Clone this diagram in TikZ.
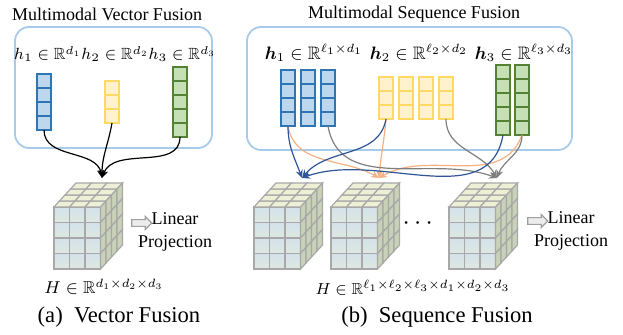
\RequirePackage{fix-cm}
\documentclass[tikz,border=0pt]{standalone}
\usepackage{amsmath}
\usepackage{amssymb}
\usepackage{bm}
\usepackage{fontspec}
\setmainfont{Liberation Serif}
\usetikzlibrary{arrows.meta,positioning,shapes.arrows}

\definecolor{boxblue}{HTML}{A9CBEA}
\definecolor{vblue}{HTML}{BDD7EE}
\definecolor{vbluel}{HTML}{2E75B6}
\definecolor{vyel}{HTML}{FFF2CC}
\definecolor{vyell}{HTML}{FFD966}
\definecolor{vgreen}{HTML}{C5E0B4}
\definecolor{vgreenl}{HTML}{548235}
\definecolor{arrblue}{HTML}{2F5597}
\definecolor{arrorange}{HTML}{F4B183}
\definecolor{arrgray}{HTML}{7F7F7F}
\definecolor{cubeline}{HTML}{A8A8A8}
\definecolor{cubetop}{HTML}{EEF0D6}
\definecolor{cubeside}{HTML}{C9D2B6}
\definecolor{cubeblue}{HTML}{D3E2EA}
\definecolor{cubecream}{HTML}{FAF3CC}

\tikzset{
  pics/vecbar/.style n args={3}{code={
    \foreach \k in {1,...,#1}
      \draw[fill=#2, draw=#3, line width=0.6pt] (0,{(\k-1)*14}) rectangle (14,{\k*14});
    \coordinate (-bot) at (7,{#1*14});
  }},
  pics/tcube/.style={code={
    % front face
    \foreach \i in {0,1,2} \foreach \k in {0,...,3}
      \shadedraw[draw=cubeline, line width=0.6pt, shading angle=45,
                 top color=cubeblue, middle color=cubecream, bottom color=cubeblue!70!cubecream]
        ({\i*15.5},{\k*15.5}) rectangle ++(15.5,15.5);
    % top face
    \foreach \i in {0,1,2} \foreach \j in {0,...,3}
      \filldraw[draw=cubeline, line width=0.6pt, fill=cubetop]
        ({\i*15.5+\j*5.5},{-\j*6}) -- ++(15.5,0) -- ++(5.5,-6) -- ++(-15.5,0) -- cycle;
    % side face
    \foreach \j in {0,...,3} \foreach \k in {0,...,3}
      \filldraw[draw=cubeline, line width=0.6pt, fill=cubeside]
        ({46.5+\j*5.5},{\k*15.5-\j*6}) -- ++(5.5,-6) -- ++(0,15.5) -- ++(-5.5,6) -- cycle;
    \coordinate (-top) at (48,-29);
  }}
}

\begin{document}
\begin{tikzpicture}[
  x=0.5pt, y=-0.5pt,
  title/.style={font=\fontsize{9}{10}\selectfont, inner sep=0pt},
  lbl/.style={font=\fontsize{9}{11}\selectfont, inner sep=0pt},
  captxt/.style={font=\fontsize{11.3}{13}\selectfont, inner sep=0pt},
  panel/.style={draw=boxblue, line width=0.9pt, rounded corners=7pt},
  proj/.style={font=\fontsize{9}{10.5}\selectfont, align=center, inner sep=0pt},
  parr/.style={single arrow, draw=gray!75, fill=gray!15, line width=0.6pt,
               minimum height=10pt, minimum width=6.5pt, single arrow head extend=1.4pt,
               inner sep=1.2pt},
  fuse/.style={-{Stealth[length=4pt,width=3.5pt]}, line width=0.6pt},
]
\useasboundingbox (0,0) rectangle (623,335);

% ---------- Panel (a): vector fusion ----------
\node[title] (ttlA) at (107,14) {Multimodal Vector Fusion};
\draw[panel] (15,27) rectangle (212,148);
\node[lbl, font=\fontsize{8.1}{10}\selectfont] (hA) at (115,54)
  {$h_1\in\mathbb{R}^{d_1}h_2\in\mathbb{R}^{d_2}h_3\in\mathbb{R}^{d_3}$};

\pic (a1) at (37,74) {vecbar={4}{vblue}{vbluel}};
\pic (a2) at (105,81) {vecbar={3}{vyel}{vyell}};
\pic (a3) at (173,67) {vecbar={5}{vgreen}{vgreenl}};

\pic (ca) at (54,207) {tcube};

\draw[fuse] (a1-bot) to[out=-90,in=100] (ca-top);
\draw[fuse] (a2-bot) to[out=-100,in=90] (ca-top);
\draw[fuse] (a3-bot) to[out=-90,in=70] (ca-top);

\node[parr] (pa) at (140,223) {};
\node[proj, anchor=north] (linA) at (175,212) {Linear\\[1pt]Projection};
\node[lbl, font=\fontsize{8.6}{10}\selectfont] (HA) at (104,287)
  {$H\in\mathbb{R}^{d_1\times d_2\times d_3}$};
\node[captxt] (capA) at (119,317) {(a)\ \ Vector Fusion};

% ---------- Panel (b): sequence fusion ----------
\node[title] (ttlB) at (414,14) {Multimodal Sequence Fusion};
\draw[panel] (247,27) rectangle (572,150);
\node[lbl] (hB1) at (314,53) {$\bm{h}_1\in\mathbb{R}^{\ell_1\times d_1}$};
\node[lbl] (hB2) at (419,53) {$\bm{h}_2\in\mathbb{R}^{\ell_2\times d_2}$};
\node[lbl] (hB3) at (524,53) {$\bm{h}_3\in\mathbb{R}^{\ell_3\times d_3}$};

\foreach \n/\x in {1/281,2/301,3/321}
  \pic (b\n) at (\x,70) {vecbar={4}{vblue}{vbluel}};
\foreach \n/\x in {1/379,2/399,3/419,4/439}
  \pic (y\n) at (\x,77) {vecbar={3}{vyel}{vyell}};
\foreach \n/\x in {1/496,2/515}
  \pic (g\n) at (\x,65) {vecbar={5}{vgreen}{vgreenl}};

\pic (c1) at (254,207) {tcube};
\pic (c2) at (331,207) {tcube};
\pic (c3) at (449,207) {tcube};
\node[lbl, font=\fontsize{13}{14}\selectfont] (dots) at (420,224) {$\cdots$};

\draw[fuse, arrorange] (b1-bot) to[out=-80,in=150] (c2-top);
\draw[fuse, arrorange] (y1-bot) to[out=-95,in=85] (c2-top);
\draw[fuse, arrorange] (g2-bot) to[out=-110,in=30] (c2-top);
\draw[fuse, arrgray] (b3-bot) to[out=-80,in=160] (c3-top);
\draw[fuse, arrgray] (y4-bot) to[out=-90,in=120] (c3-top);
\draw[fuse, arrgray] (g2-bot) to[out=-90,in=70] (c3-top);
\draw[fuse, arrblue] (b1-bot) to[out=-90,in=110] (c1-top);
\draw[fuse, arrblue] (y1-bot) to[out=-100,in=50] (c1-top);
\draw[fuse, arrblue] (g1-bot) to[out=-100,in=20] (c1-top);

\node[parr] (pb) at (536,221) {};
\node[proj, anchor=north] (linB) at (571,211) {Linear\\[1pt]Projection};
\node[lbl, font=\fontsize{8}{10}\selectfont] (HB) at (413,288)
  {$H\in\mathbb{R}^{\ell_1\times\ell_2\times\ell_3\times d_1\times d_2\times d_3}$};
\node[captxt] (capB) at (437,317) {(b)\ \ Sequence Fusion};

\end{tikzpicture}
\end{document}
